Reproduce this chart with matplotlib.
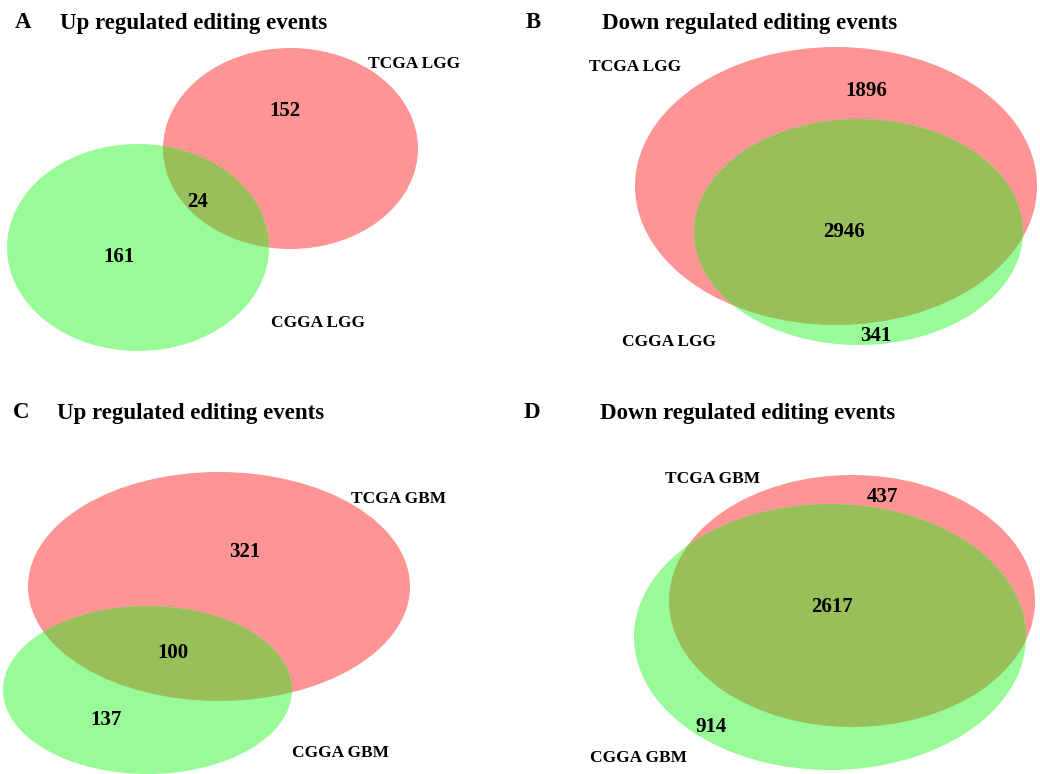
import matplotlib.pyplot as plt
from matplotlib.patches import Ellipse

# panel content
letters = ["A", "B", "C", "D"]
titles = ["Up regulated editing events", "Down regulated editing events",
          "Up regulated editing events", "Down regulated editing events"]
tcga_names = ["TCGA LGG", "TCGA LGG", "TCGA GBM", "TCGA GBM"]
cgga_names = ["CGGA LGG", "CGGA LGG", "CGGA GBM", "CGGA GBM"]
tcga_only = [152, 1896, 321, 437]
shared = [24, 2946, 100, 2617]
cgga_only = [161, 341, 137, 914]

RED = "#fe9494"
GREEN = "#98fb98"
OLIVE = "#98bf5a"

# layout in pixel coordinates (x, y from top-left)
layout = [
    dict(letter=(23, 23), title=60,
         red=(290.5, 148.5, 255, 201), green=(138, 247.5, 262, 207),
         n_red=(285, 111), n_both=(197, 202), n_green=(119, 257),
         lab_red=(414, 64), lab_green=(318, 323)),
    dict(letter=(533, 23), title=602,
         red=(836, 186, 402, 278), green=(858.5, 232, 329, 226),
         n_red=(866, 91), n_both=(844, 232), n_green=(876, 336),
         lab_red=(635, 67), lab_green=(669, 342)),
    dict(letter=(21, 413), title=57,
         red=(219, 586.5, 382, 229), green=(147.5, 690, 289, 168),
         n_red=(245, 552), n_both=(173, 653), n_green=(106, 720),
         lab_red=(399, 499), lab_green=(341, 753)),
    dict(letter=(532, 413), title=600,
         red=(852, 601, 366, 252), green=(830, 637, 392, 266),
         n_red=(882, 497), n_both=(832, 607), n_green=(711, 727),
         lab_red=(713, 479), lab_green=(639, 758)),
]

fig = plt.figure(figsize=(10.4, 7.74), dpi=100)
ax = fig.add_axes([0, 0, 1, 1])
ax.set_xlim(0, 1040)
ax.set_ylim(774, 0)
ax.axis("off")

font = dict(family="Liberation Serif", fontweight="bold", color="black")

for i, p in enumerate(layout):
    ax.text(*p["letter"], letters[i], fontsize=16.5, ha="center", va="center", **font)
    ax.text(p["title"], p["letter"][1], titles[i], fontsize=16.5, ha="left", va="center", **font)

    rx, ry, rw, rh = p["red"]
    gx, gy, gw, gh = p["green"]
    red = Ellipse((rx, ry), rw, rh, facecolor=RED, edgecolor="none")
    green = Ellipse((gx, gy), gw, gh, facecolor=GREEN, edgecolor="none")
    ax.add_patch(red)
    ax.add_patch(green)
    # intersection: green shape clipped to the red one
    both = Ellipse((gx, gy), gw, gh, facecolor=OLIVE, edgecolor="none")
    ax.add_patch(both)
    both.set_clip_path(red)

    ax.text(*p["n_red"], str(tcga_only[i]), fontsize=15, ha="center", va="center", **font)
    ax.text(*p["n_both"], str(shared[i]), fontsize=15, ha="center", va="center", **font)
    ax.text(*p["n_green"], str(cgga_only[i]), fontsize=15, ha="center", va="center", **font)
    ax.text(*p["lab_red"], tcga_names[i], fontsize=12.5, ha="center", va="center", **font)
    ax.text(*p["lab_green"], cgga_names[i], fontsize=12.5, ha="center", va="center", **font)

fig.savefig("out.png", dpi=100, facecolor="white")
